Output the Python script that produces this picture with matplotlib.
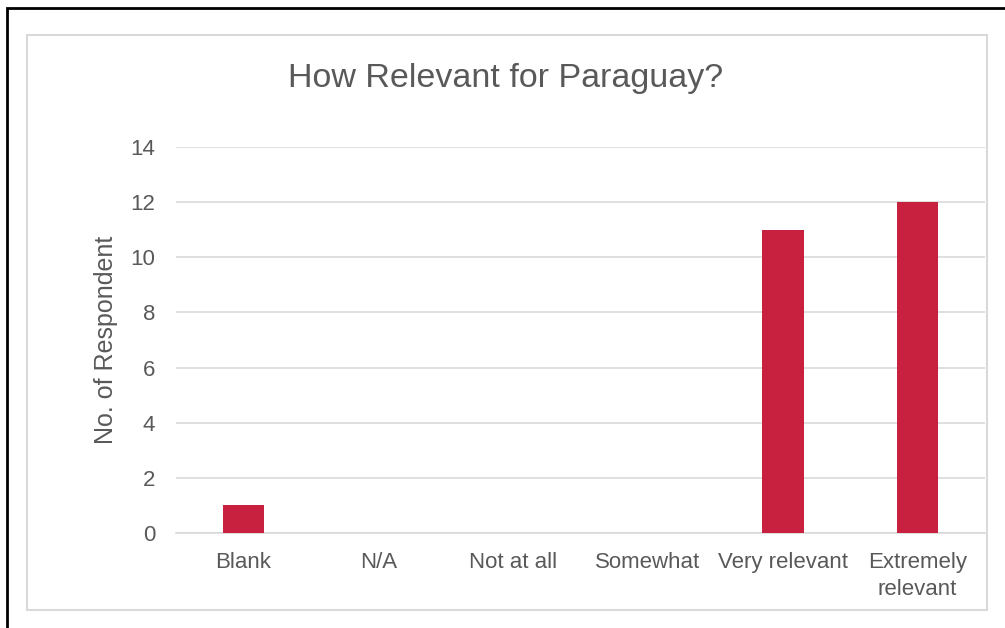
import matplotlib.pyplot as plt
from matplotlib.patches import Rectangle

categories = ["Blank", "N/A", "Not at all", "Somewhat", "Very relevant", "Extremely\nrelevant"]
counts = [1, 0, 0, 0, 11, 12]
yticks = [0, 2, 4, 6, 8, 10, 12, 14]

W, H = 1005, 628
text_color = "#595959"
grid_color = "#D9D9D9"
bar_color = "#C8203F"

plt.rcParams["font.family"] = ["Liberation Sans", "DejaVu Sans"]

fig = plt.figure(figsize=(W / 100, H / 100), dpi=100)
ax = fig.add_axes([176 / W, 1 - 533 / H, (985 - 176) / W, (533 - 147) / H])

x = list(range(len(categories)))
ax.bar(x, counts, width=0.31, color=bar_color, zorder=3)

ax.set_xlim(-0.5, len(categories) - 0.5)
ax.set_ylim(0, 14)
ax.set_yticks(yticks)
ax.set_xticks(x)
ax.set_xticklabels(categories, fontsize=16, color=text_color, linespacing=1.35)
ax.tick_params(axis="y", labelsize=16, labelcolor=text_color, length=0, pad=15)
ax.tick_params(axis="x", length=0, pad=14)
ax.grid(axis="y", color=grid_color, linewidth=1.2, zorder=0)
for s in ["top", "right", "left"]:
    ax.spines[s].set_visible(False)
ax.spines["bottom"].set_color(grid_color)
ax.spines["bottom"].set_linewidth(1.2)

ax.set_ylabel("No. of Respondent", fontsize=18, color=text_color, labelpad=9)
fig.text(506 / W, 1 - 79 / H, "How Relevant for Paraguay?", fontsize=24.5,
         color=text_color, ha="center", va="center")

# chart area border (light gray) and outer black frame
fig.patches.append(Rectangle((27 / W, 1 - 610 / H), (987 - 27) / W, (610 - 35) / H,
                             transform=fig.transFigure, fill=False,
                             edgecolor=grid_color, linewidth=1.5))
fig.patches.append(Rectangle((6.5 / W, -0.1), 1.2, 1.1 - 8.5 / H,
                             transform=fig.transFigure, fill=False,
                             edgecolor="black", linewidth=2))

fig.savefig("out.png", dpi=100)
